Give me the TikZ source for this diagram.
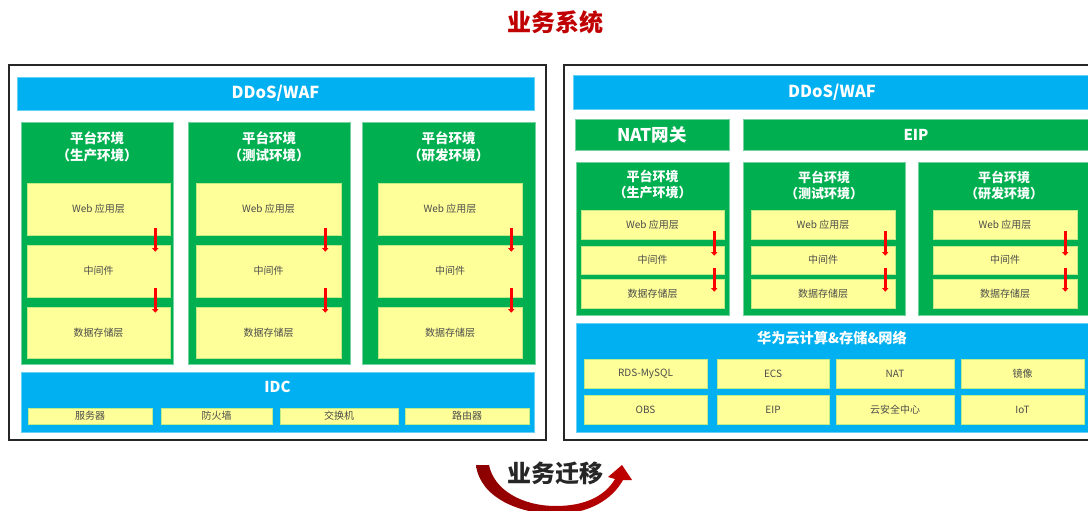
\documentclass[tikz,border=0pt]{standalone}
\usepackage{fontspec}
\setmainfont{Noto Sans CJK SC}
\usetikzlibrary{positioning,arrows.meta}
\definecolor{wafblue}{HTML}{00B0F0}
\definecolor{envgreen}{HTML}{00B050}
\definecolor{layeryellow}{HTML}{FFFF99}
\definecolor{titlered}{HTML}{C00000}
\definecolor{migdark}{HTML}{8B0000}
\tikzset{
  sz/.style 2 args={minimum width=#1pt, minimum height=#2pt},
  frame/.style={draw=black!85, line width=2.5pt},
  bar/.style={rectangle, fill=wafblue, draw=wafblue!60!white, line width=0.6pt, inner sep=0pt},
  bartext/.style={text=white, font=\bfseries\fontsize{16.5}{19}\selectfont},
  env/.style={rectangle, fill=envgreen, draw=envgreen!55!white, line width=0.6pt, inner sep=0pt},
  envtitle/.style={text=white, font=\bfseries\fontsize{13.5}{17}\selectfont, align=center},
  layer/.style={rectangle, fill=layeryellow, draw=envgreen!25!layeryellow, line width=0.6pt, text=black!70, font=\fontsize{10}{12}\selectfont, inner sep=0pt},
  flow/.style={draw=red, line width=2.4pt, -{Triangle[width=6pt,length=3.5pt]}},
}
\begin{document}
\begin{tikzpicture}[x=1pt,y=-1pt]
\clip (0,0) rectangle (1088,511);
\node[font=\bfseries\fontsize{24}{27}\selectfont, text=titlered] (systitle) at (555,22) {业务系统};
\draw[frame] (9,65) rectangle (546,440);
\draw[frame] (564,65) rectangle (1100,440);

\node[bar, bartext, sz={517}{33}] (ddosL) at (275.5,93.5) {DDoS/WAF};

\node[env, sz={152}{242}] (envL1) at (97,243) {};
\node[env, sz={162}{242}] (envL2) at (269,243) {};
\node[env, sz={173}{242}] (envL3) at (448.5,243) {};
\node[envtitle] (ttlL1) at (97,146.5) {平台环境\\（生产环境）};
\node[envtitle] (ttlL2) at (269,146.5) {平台环境\\（测试环境）};
\node[envtitle] (ttlL3) at (448.5,146.5) {平台环境\\（研发环境）};
\node[layer, sz={143}{52}] (webL1) at (98.5,209) {Web 应用层};
\node[layer, sz={143}{52}] (midL1) at (98.5,271) {中间件};
\node[layer, sz={143}{51}] (dbL1) at (98.5,332.5) {数据存储层};
\node[layer, sz={145}{52}] (webL2) at (268.5,209) {Web 应用层};
\node[layer, sz={145}{52}] (midL2) at (268.5,271) {中间件};
\node[layer, sz={145}{51}] (dbL2) at (268.5,332.5) {数据存储层};
\node[layer, sz={144}{52}] (webL3) at (450,209) {Web 应用层};
\node[layer, sz={144}{52}] (midL3) at (450,271) {中间件};
\node[layer, sz={144}{51}] (dbL3) at (450,332.5) {数据存储层};
\draw[flow] ([shift={(-15pt,7pt)}]webL1.south east) -- ([shift={(-15pt,-7pt)}]midL1.north east);
\draw[flow] ([shift={(-15pt,9pt)}]midL1.south east) -- ([shift={(-15pt,-6pt)}]dbL1.north east);
\draw[flow] ([shift={(-16pt,7pt)}]webL2.south east) -- ([shift={(-16pt,-7pt)}]midL2.north east);
\draw[flow] ([shift={(-16pt,9pt)}]midL2.south east) -- ([shift={(-16pt,-6pt)}]dbL2.north east);
\draw[flow] ([shift={(-11pt,7pt)}]webL3.south east) -- ([shift={(-11pt,-7pt)}]midL3.north east);
\draw[flow] ([shift={(-11pt,9pt)}]midL3.south east) -- ([shift={(-11pt,-6pt)}]dbL3.north east);

\node[bar, sz={513}{60}] (idc) at (277.5,402) {};
\node[bartext, font=\bfseries\fontsize{15}{18}\selectfont] (idcttl) at (277.5,387) {IDC};
\node[layer, sz={124}{16}] (srv) at (90,416) {服务器};
\node[layer, sz={111}{16}] (fw) at (216.5,416) {防火墙};
\node[layer, sz={118}{16}] (sw) at (339,416) {交换机};
\node[layer, sz={124}{16}] (rt) at (467,416) {路由器};

\node[bar, bartext, sz={518}{34}] (ddosR) at (832,92) {DDoS/WAF};
\node[env, sz={154}{31}, text=white, font=\bfseries\fontsize{17.5}{20}\selectfont] (natgw) at (652,134.5) {NAT网关};
\node[env, sz={346}{31}, text=white, font=\bfseries\fontsize{15}{18}\selectfont] (eip) at (916,134.5) {EIP};

\node[env, sz={153}{153}] (envR1) at (652.5,238.5) {};
\node[env, sz={162}{153}] (envR2) at (824,238.5) {};
\node[env, sz={172}{153}] (envR3) at (1004,238.5) {};
\node[envtitle, font=\bfseries\fontsize{13}{16}\selectfont] (ttlR1) at (652.5,185) {平台环境\\（生产环境）};
\node[envtitle, font=\bfseries\fontsize{13}{16}\selectfont] (ttlR2) at (824,185) {平台环境\\（测试环境）};
\node[envtitle, font=\bfseries\fontsize{13}{16}\selectfont] (ttlR3) at (1004,185) {平台环境\\（研发环境）};
\node[layer, sz={143}{29}] (webR1) at (652.5,224.5) {Web 应用层};
\node[layer, sz={143}{28}] (midR1) at (652.5,260) {中间件};
\node[layer, sz={143}{29}] (dbR1) at (652.5,293.5) {数据存储层};
\node[layer, sz={144}{29}] (webR2) at (823,224.5) {Web 应用层};
\node[layer, sz={144}{28}] (midR2) at (823,260) {中间件};
\node[layer, sz={144}{29}] (dbR2) at (823,293.5) {数据存储层};
\node[layer, sz={144}{29}] (webR3) at (1005,224.5) {Web 应用层};
\node[layer, sz={144}{28}] (midR3) at (1005,260) {中间件};
\node[layer, sz={144}{29}] (dbR3) at (1005,293.5) {数据存储层};
\draw[flow] ([shift={(-10pt,8pt)}]webR1.south east) -- ([shift={(-10pt,-10pt)}]midR1.north east);
\draw[flow] ([shift={(-10pt,6pt)}]midR1.south east) -- ([shift={(-10pt,-13pt)}]dbR1.north east);
\draw[flow] ([shift={(-10pt,8pt)}]webR2.south east) -- ([shift={(-10pt,-10pt)}]midR2.north east);
\draw[flow] ([shift={(-10pt,6pt)}]midR2.south east) -- ([shift={(-10pt,-13pt)}]dbR2.north east);
\draw[flow] ([shift={(-12pt,8pt)}]webR3.south east) -- ([shift={(-12pt,-10pt)}]midR3.north east);
\draw[flow] ([shift={(-12pt,6pt)}]midR3.south east) -- ([shift={(-12pt,-13pt)}]dbR3.north east);

\node[bar, sz={512}{109}] (cloud) at (832,377.5) {};
\node[bartext, font=\bfseries\fontsize{14.2}{17}\selectfont] (cloudttl) at (832,338) {华为云计算\&存储\&网络};
\node[layer, sz={123}{29}] (rds) at (645.5,373.5) {RDS-MySQL};
\node[layer, sz={112}{29}] (ecs) at (773,373.5) {ECS};
\node[layer, sz={118}{29}] (nat) at (895,373.5) {NAT};
\node[layer, sz={123}{29}] (img) at (1022.5,373.5) {镜像};
\node[layer, sz={123}{29}] (obs) at (645.5,409.5) {OBS};
\node[layer, sz={112}{29}] (eipR) at (773,409.5) {EIP};
\node[layer, sz={118}{29}] (sec) at (895,409.5) {云安全中心};
\node[layer, sz={123}{29}] (iot) at (1022.5,409.5) {IoT};

\shade[left color=migdark, right color=titlered] (476,465) .. controls (480,498) and (520,514) .. (556,514) .. controls (588,514) and (612,500) .. (623,480) -- (632,480) -- (622,465) -- (608,477) -- (615,479) .. controls (605,496) and (585,506) .. (556,506) .. controls (522,506) and (494,490) .. (489,465) -- cycle;
\node[font=\bfseries\fontsize{24}{27}\selectfont, text=black!85] (migttl) at (555,473) {业务迁移};
\end{tikzpicture}
\end{document}
